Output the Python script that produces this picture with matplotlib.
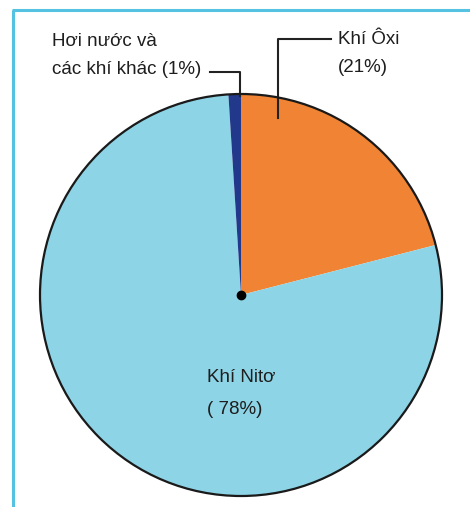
import matplotlib.pyplot as plt
from matplotlib.patches import Circle

# Composition of air
names = ['Khí Ôxi', 'Khí Nitơ', 'Hơi nước và các khí khác']
shares = [21, 78, 1]
colors = ['#F08434', '#8DD4E6', '#22388A']

plt.rcParams['font.family'] = ['Liberation Sans Narrow', 'Liberation Sans', 'DejaVu Sans']

W, H = 470, 507
fig = plt.figure(figsize=(W / 100, H / 100), dpi=100)
ax = fig.add_axes([0, 0, 1, 1])

cx, cy, r = 241, 212, 201

ax.pie(shares, colors=colors, startangle=90, counterclock=False,
       center=(cx, cy), radius=r, wedgeprops=dict(linewidth=0))
ax.add_patch(Circle((cx, cy), r, fill=False, edgecolor='#1a1a1a', linewidth=1.6, zorder=3))
ax.plot([cx], [cy], 'o', color='black', markersize=6, zorder=4)
ax.set_xlim(0, W)
ax.set_ylim(0, H)
ax.set_aspect('auto')
ax.axis('off')

# frame
frame = '#56C2E2'
ax.plot([13, 13], [0, 497], color=frame, linewidth=2.2, solid_capstyle='butt')
ax.plot([12, W], [497, 497], color=frame, linewidth=2.2, solid_capstyle='butt')

txt = dict(fontsize=13.5, color='#1e1e1e', va='center', ha='left')

# labels
ax.text(52, H - 42, 'Hơi nước và', **txt)
ax.text(52, H - 70, 'các khí khác (%d%%)' % shares[2], **txt)
ax.plot([210, 240, 240], [H - 72, H - 72, H - 96], color='#222222', linewidth=1.5)

ax.text(338, H - 40, names[0], **txt)
ax.text(338, H - 68, '(%d%%)' % shares[0], **txt)
ax.plot([331, 278, 278], [H - 39, H - 39, H - 118], color='#222222', linewidth=1.5)

ax.text(207, H - 378, names[1], **txt)
ax.text(207, H - 410, '( %d%%)' % shares[1], **txt)

fig.savefig('out.png', dpi=100, facecolor='white')
